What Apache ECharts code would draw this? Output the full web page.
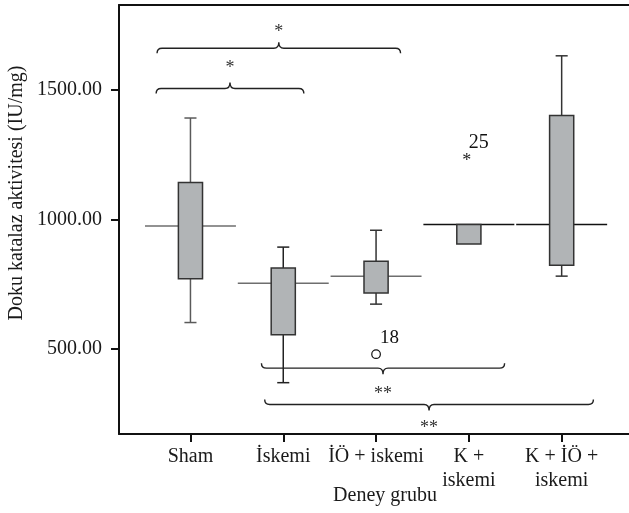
<!DOCTYPE html>
<html>
<head>
<meta charset="utf-8">
<script src="https://cdn.jsdelivr.net/npm/echarts@6/dist/echarts.min.js"></script>
<style>
  html, body { margin: 0; padding: 0; background: #fff; overflow: hidden; }
  #chart { width: 629px; height: 513px; }
</style>
</head>
<body>
<div id="chart"></div>
<script>
// ---- data ----
const categories = ['Sham', 'İskemi', 'İÖ + iskemi', 'K +\niskemi', 'K + İÖ +\niskemi'];
const whiskerLow  = [603, 371, 674, 906, 782];
const q1          = [772, 556, 717, 906, 824];
const median      = [975, 755, 782, 981, 981];
const q3          = [1143, 813, 839, 981, 1402];
const whiskerHigh = [1392, 894, 959, 981, 1632];
const outlierGroup = [2, 3];
const outlierValue = [481, 1248];
const outlierLabel = ['18', '25'];
const outlierKind  = ['circle', 'star'];
const yTicks = [500, 1000, 1500];
const yMin = 173, yMax = 1828;
// significance brackets (group-index span, value level, label)
const bracketFrom  = [-0.36, -0.37, 0.765, 0.80];
const bracketTo    = [2.264, 1.222, 3.385, 4.342];
const bracketLevel = [1661, 1506, 427, 287];
const bracketDir   = ['up', 'up', 'down', 'down'];
const bracketText  = ['*', '*', '**', '**'];
const bracketTextLevel = [1742, 1605, 345, 215];

const FONT = '"Liberation Serif", "Times New Roman", serif';
const medianColors = ['#6e6e6e', '#6e6e6e', '#6e6e6e', '#111', '#111'];
const whiskerColors = ['#5a5a5a', '#222', '#333', '#222', '#333'];

const boxData = categories.map((c, i) => [i, whiskerLow[i], q1[i], median[i], q3[i], whiskerHigh[i]]);
const outData = outlierGroup.map((g, i) => [g, outlierValue[i], i]);
const brData = bracketFrom.map((f, i) => [f, bracketTo[i], bracketLevel[i], bracketTextLevel[i], i]);

const chart = echarts.init(document.getElementById('chart'), null, { renderer: 'canvas' });

function renderBox(params, api) {
  const i = api.value(0);
  const unit = api.size([1, 0])[0];
  const bh = unit * 0.13, ch = unit * 0.065, mh = unit * 0.49;
  const x = api.coord([i, 0])[0];
  const yv = k => api.coord([i, api.value(k)])[1];
  const yLo = yv(1), yQ1 = yv(2), yMed = yv(3), yQ3 = yv(4), yHi = yv(5);
  const wc = whiskerColors[i];
  const ls = { stroke: wc, lineWidth: 1.5 };
  const children = [];
  if (yHi < yQ3 - 0.5) {
    children.push({ type: 'line', shape: { x1: x, y1: yQ3, x2: x, y2: yHi }, style: ls });
    children.push({ type: 'line', shape: { x1: x - ch, y1: yHi, x2: x + ch, y2: yHi }, style: ls });
  }
  if (yLo > yQ1 + 0.5) {
    children.push({ type: 'line', shape: { x1: x, y1: yQ1, x2: x, y2: yLo }, style: ls });
    children.push({ type: 'line', shape: { x1: x - ch, y1: yLo, x2: x + ch, y2: yLo }, style: ls });
  }
  children.push({ type: 'line', shape: { x1: x - mh, y1: yMed, x2: x + mh, y2: yMed },
    style: { stroke: medianColors[i], lineWidth: 1.5 } });
  children.push({ type: 'rect', shape: { x: x - bh, y: yQ3, width: 2 * bh, height: yQ1 - yQ3 },
    style: { fill: '#b1b4b6', stroke: '#333', lineWidth: 1.5 } });
  return { type: 'group', children };
}

function renderOutlier(params, api) {
  const p = api.coord([api.value(0), api.value(1)]);
  const k = api.value(2);
  const children = [];
  if (outlierKind[k] === 'circle') {
    children.push({ type: 'circle', shape: { cx: p[0], cy: p[1], r: 4.3 },
      style: { fill: '#fff', stroke: '#111', lineWidth: 1.2 } });
    children.push({ type: 'text', x: p[0] + 4, y: p[1] - 7,
      style: { text: outlierLabel[k], fill: '#111', font: '19px ' + FONT, align: 'left', verticalAlign: 'bottom' } });
  } else {
    children.push({ type: 'text', x: p[0] - 2, y: p[1] + 6,
      style: { text: '*', fill: '#222', font: '18px ' + FONT, align: 'center', verticalAlign: 'middle' } });
    children.push({ type: 'text', x: p[0], y: p[1] - 3,
      style: { text: outlierLabel[k], fill: '#111', font: '20px ' + FONT, align: 'left', verticalAlign: 'bottom' } });
  }
  return { type: 'group', children };
}

function renderBracket(params, api) {
  const k = api.value(4);
  const a = api.coord([api.value(0), api.value(2)]);
  const b = api.coord([api.value(1), api.value(2)]);
  const t = api.coord([(api.value(0) + api.value(1)) / 2, api.value(3)]);
  const x1 = a[0], x2 = b[0], y = a[1], xm = (x1 + x2) / 2;
  const d = bracketDir[k] === 'up' ? 1 : -1; // up: ends curl down, tip points up
  const e = 5, tip = 6, r = 5;
  const path = 'M' + x1 + ',' + (y + d * e) +
    ' Q' + x1 + ',' + y + ' ' + (x1 + r) + ',' + y +
    ' L' + (xm - r) + ',' + y +
    ' Q' + xm + ',' + y + ' ' + xm + ',' + (y - d * tip) +
    ' Q' + xm + ',' + y + ' ' + (xm + r) + ',' + y +
    ' L' + (x2 - r) + ',' + y +
    ' Q' + x2 + ',' + y + ' ' + x2 + ',' + (y + d * e);
  return { type: 'group', children: [
    { type: 'path', shape: { pathData: path }, style: { fill: null, stroke: '#222', lineWidth: 1.4 } },
    { type: 'text', x: t[0], y: t[1] + 5,
      style: { text: bracketText[k], fill: '#333', font: '18px ' + FONT, align: 'center', verticalAlign: 'middle' } }
  ] };
}

const xMin = -0.77, xMax = 4.898;
const option = {
  animation: false,
  backgroundColor: '#fff',
  grid: { left: 119, top: 5, width: 526, height: 429, show: false,
    outerBoundsMode: 'none', containLabel: false },
  xAxis: [{
    type: 'value', min: xMin, max: xMax,
    splitLine: { show: false },
    axisLine: { show: true, onZero: false, lineStyle: { color: '#111', width: 2 } },
    axisTick: { show: true, length: 8, lineStyle: { color: '#111', width: 2 }, customValues: [0, 1, 2, 3, 4] },
    axisLabel: { customValues: [0, 1, 2, 3, 4], formatter: v => categories[Math.round(v)],
      margin: 11, fontFamily: FONT, fontSize: 20, lineHeight: 24, color: '#1a1a1a' }
  }, {
    type: 'value', position: 'top', min: xMin, max: xMax,
    splitLine: { show: false },
    axisLine: { show: true, onZero: false, lineStyle: { color: '#111', width: 2 } },
    axisTick: { show: false }, axisLabel: { show: false }
  }],
  yAxis: {
    type: 'value', min: yMin, max: yMax,
    splitLine: { show: false },
    axisLine: { show: true, onZero: false, lineStyle: { color: '#111', width: 2 } },
    axisTick: { show: true, length: 8, lineStyle: { color: '#111', width: 2 }, customValues: yTicks },
    axisLabel: { customValues: yTicks, formatter: v => v.toFixed(2),
      margin: 17, fontFamily: FONT, fontSize: 20, color: '#1a1a1a' }
  },
  graphic: [
    { type: 'text', x: 17, y: 193, rotation: Math.PI / 2,
      style: { text: 'Doku katalaz aktivitesi (IU/mg)', font: '20px ' + FONT, fill: '#1a1a1a', align: 'center', verticalAlign: 'middle' } },
    { type: 'text', x: 385, y: 496,
      style: { text: 'Deney grubu', font: '20px ' + FONT, fill: '#1a1a1a', align: 'center', verticalAlign: 'middle' } },
    { type: 'rect', z: 100, shape: { x: 622, y: 8, width: 10, height: 423 }, style: { fill: '#fff' }, silent: true }
  ],
  series: [
    { type: 'custom', xAxisIndex: 0, renderItem: renderBox, data: boxData, encode: { x: 0, y: [1, 2, 3, 4, 5] }, clip: false },
    { type: 'custom', xAxisIndex: 0, renderItem: renderOutlier, data: outData, encode: { x: 0, y: 1 }, clip: false },
    { type: 'custom', xAxisIndex: 0, renderItem: renderBracket, data: brData, encode: { x: [0, 1], y: 2 }, clip: false }
  ]
};
chart.setOption(option);
</script>
</body>
</html>
